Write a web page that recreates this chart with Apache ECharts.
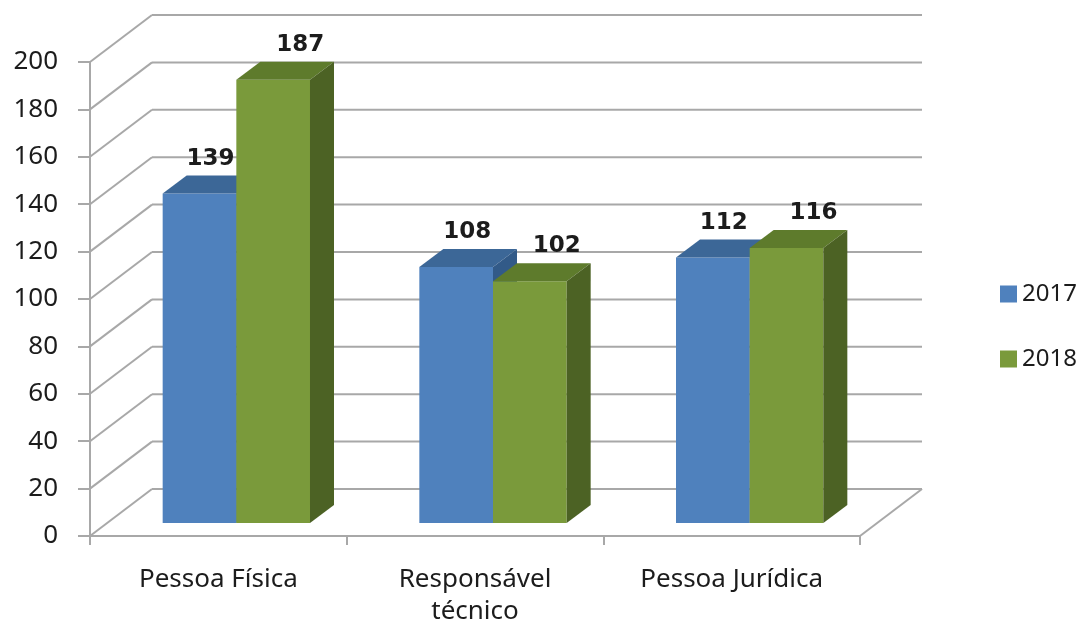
<!DOCTYPE html>
<html>
<head>
<meta charset="utf-8">
<script src="https://cdn.jsdelivr.net/npm/echarts@6/dist/echarts.min.js"></script>
<style>html,body{margin:0;padding:0;background:#fff}#c{width:1082px;height:623px}</style>
</head>
<body>
<div id="c"></div>
<script>
const categories = ['Pessoa Física', 'Responsável\ntécnico', 'Pessoa Jurídica'];
const seriesNames = ['2017', '2018'];
const values2017 = [139, 108, 112];
const values2018 = [187, 102, 116];
const yTicks = [0, 20, 40, 60, 80, 100, 120, 140, 160, 180, 200];

// 3D geometry (pixels)
const WALL_DX = 62, WALL_DY = 47;   // full depth of the back wall
const FRONT_DX = 18, FRONT_DY = 13; // bar front face offset
const BAR_DX = 24, BAR_DY = 18;     // bar depth
const BAR_FRAC = 0.287;             // bar width as fraction of category band
const LABEL_DX = [11, 27];          // label shift from front-face centre (per series)
const GRID_COLOR = '#a8a8a8';
const TEXT_COLOR = '#1c1c1c';

const colors = {
  '2017': { front: '#4F81BD', top: '#3C6797', side: '#325A88' },
  '2018': { front: '#7A9A3B', top: '#5E7B2C', side: '#4C6224' }
};

function barGeom(api, sideIdx) {
  const i = api.value(0), v = api.value(1);
  const band = api.size([1, 0])[0];
  const w = band * BAR_FRAC;
  const c = api.coord([i, v]);
  const b = api.coord([i, 0]);
  const xl = c[0] + FRONT_DX + (sideIdx === 0 ? -w : 0);
  return { v: v, xl: xl, xr: xl + w, yt: c[1] - FRONT_DY, yb: b[1] - FRONT_DY };
}

function renderWall(params, api) {
  const v = api.value(1);
  const cs = params.coordSys;
  const y = api.coord([0, v])[1];
  const x0 = cs.x, x1 = cs.x + cs.width;
  const st = { stroke: GRID_COLOR, lineWidth: 2 };
  const children = [
    { type: 'line', shape: { x1: x0, y1: y, x2: x0 + WALL_DX, y2: y - WALL_DY }, style: st },
    { type: 'line', shape: { x1: x0 + WALL_DX, y1: y - WALL_DY, x2: x1 + WALL_DX, y2: y - WALL_DY }, style: st }
  ];
  if (v === 0) {
    children.push({ type: 'line', shape: { x1: x1, y1: y, x2: x1 + WALL_DX, y2: y - WALL_DY }, style: st });
  }
  return { type: 'group', children: children };
}

function makeBarRender(sideIdx, name) {
  const col = colors[name];
  return function (params, api) {
    const g = barGeom(api, sideIdx);
    const { xl, xr, yt, yb } = g;
    return {
      type: 'group',
      children: [
        { type: 'polygon', shape: { points: [[xl, yt], [xr, yt], [xr, yb], [xl, yb]] }, style: { fill: col.front } },
        { type: 'polygon', shape: { points: [[xl, yt], [xl + BAR_DX, yt - BAR_DY], [xr + BAR_DX, yt - BAR_DY], [xr, yt]] }, style: { fill: col.top } },
        { type: 'polygon', shape: { points: [[xr, yt], [xr + BAR_DX, yt - BAR_DY], [xr + BAR_DX, yb - BAR_DY], [xr, yb]] }, style: { fill: col.side } }
      ]
    };
  };
}

function makeLabelRender(sideIdx) {
  return function (params, api) {
    const g = barGeom(api, sideIdx);
    return {
      type: 'text',
      x: (g.xl + g.xr) / 2 + LABEL_DX[sideIdx], y: g.yt - BAR_DY - 17,
      style: { text: String(g.v), fill: TEXT_COLOR, font: 'bold 23px "DejaVu Sans"', align: 'center', verticalAlign: 'middle' }
    };
  };
}

const chart = echarts.init(document.getElementById('c'));
chart.setOption({
  animation: false,
  backgroundColor: '#ffffff',
  grid: { left: 90, right: 222, top: 62, bottom: 87, outerBoundsMode: 'none', containLabel: false },
  legend: {
    data: seriesNames,
    orient: 'vertical',
    left: 995, top: 277,
    itemWidth: 17, itemHeight: 17, itemGap: 41,
    icon: 'rect',
    textStyle: { fontFamily: 'Noto Sans', fontSize: 24, color: TEXT_COLOR }
  },
  xAxis: {
    type: 'category',
    data: categories,
    boundaryGap: true,
    axisLine: { show: true, lineStyle: { color: GRID_COLOR, width: 2 } },
    axisTick: { show: true, length: 9, alignWithLabel: false, lineStyle: { color: GRID_COLOR, width: 2 } },
    axisLabel: { interval: 0, margin: 28, fontFamily: 'Noto Sans', fontSize: 26, lineHeight: 32, color: TEXT_COLOR },
    splitLine: { show: false }
  },
  yAxis: {
    type: 'value',
    min: 0, max: 200, interval: 20,
    axisLine: { show: true, lineStyle: { color: GRID_COLOR, width: 2 } },
    axisTick: { show: true, length: 12, lineStyle: { color: GRID_COLOR, width: 2 } },
    axisLabel: { margin: 32, fontFamily: 'Noto Sans', fontSize: 26, color: TEXT_COLOR },
    splitLine: { show: false }
  },
  series: [
    { type: 'custom', name: 'wall', silent: true, renderItem: renderWall,
      data: yTicks.map(v => [0, v]) },
    { type: 'custom', name: seriesNames[0], itemStyle: { color: colors['2017'].front },
      renderItem: makeBarRender(0, '2017'), data: values2017.map((v, i) => [i, v]) },
    { type: 'custom', name: seriesNames[1], itemStyle: { color: colors['2018'].front },
      renderItem: makeBarRender(1, '2018'), data: values2018.map((v, i) => [i, v]) },
    { type: 'custom', name: 'labels2017', silent: true, z: 5,
      renderItem: makeLabelRender(0), data: values2017.map((v, i) => [i, v]) },
    { type: 'custom', name: 'labels2018', silent: true, z: 5,
      renderItem: makeLabelRender(1), data: values2018.map((v, i) => [i, v]) }
  ]
});
</script>
</body>
</html>
